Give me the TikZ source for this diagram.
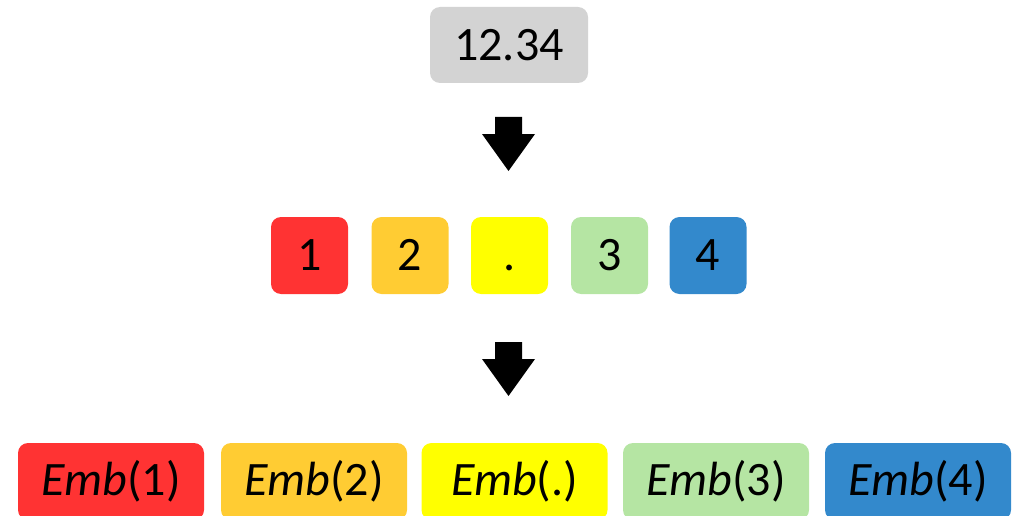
\documentclass[tikz,border=0pt]{standalone}
\usepackage{fontspec}
\setmainfont{Carlito}
\usetikzlibrary{calc}

\definecolor{cgray}{RGB}{211,211,211}
\definecolor{cred}{RGB}{255,51,51}
\definecolor{corange}{RGB}{255,204,51}
\definecolor{cyellow}{RGB}{255,255,0}
\definecolor{cgreen}{RGB}{181,229,163}
\definecolor{cblue}{RGB}{51,137,204}

\tikzset{
  x=1pt, y=-1pt,
  tile/.style={rectangle, rounded corners=10pt, inner sep=0pt, draw=none,
    font=\fontsize{48}{48}\selectfont},
  digit/.style={tile, minimum width=77pt, minimum height=77pt},
  embbox/.style={tile, minimum width=186pt, minimum height=77pt},
  blockarrow/.style={fill=black},
}
\newcommand{\dg}[1]{\vphantom{0}#1}
\newcommand{\emb}[1]{\textit{Emb}(#1)}

\begin{document}
\begin{tikzpicture}
  \useasboundingbox (0,0) rectangle (1016,516);
  \begin{scope}
  \clip (0,0) rectangle (1016,516);

  % input number
  \node[tile, fill=cgray, minimum width=158pt, minimum height=76pt] (num) at (509,45) {12.34};

  % characters
  \node[digit, fill=cred]    (c1) at (309.5,255.5) {\dg{1}};
  \node[digit, fill=corange] (c2) at (410,255.5)   {\dg{2}};
  \node[digit, fill=cyellow] (c3) at (509.5,255.5) {\dg{.}};
  \node[digit, fill=cgreen]  (c4) at (609.5,255.5) {\dg{3}};
  \node[digit, fill=cblue]   (c5) at (708,255.5)   {\dg{4}};

  % embeddings
  \node[embbox, fill=cred]    (e1) at (111,481.5)   {\emb{1}};
  \node[embbox, fill=corange] (e2) at (314,481.5)   {\emb{2}};
  \node[embbox, fill=cyellow] (e3) at (514.5,481.5) {\emb{.}};
  \node[embbox, fill=cgreen]  (e4) at (716,481.5)   {\emb{3}};
  \node[embbox, fill=cblue]   (e5) at (918,481.5)   {\emb{4}};
  \end{scope}

  % block arrows between the rows
  \coordinate (a1) at (508.5,117);
  \coordinate (a2) at (508.5,342);
  \foreach \a in {a1,a2}{
    \fill[blockarrow] ($(\a)+(-13.5,0)$) -- ($(\a)+(13.5,0)$) -- ($(\a)+(13.5,17)$)
      -- ($(\a)+(26.5,17)$) -- ($(\a)+(0,54)$) -- ($(\a)+(-26.5,17)$)
      -- ($(\a)+(-13.5,17)$) -- cycle;
  }
\end{tikzpicture}
\end{document}
